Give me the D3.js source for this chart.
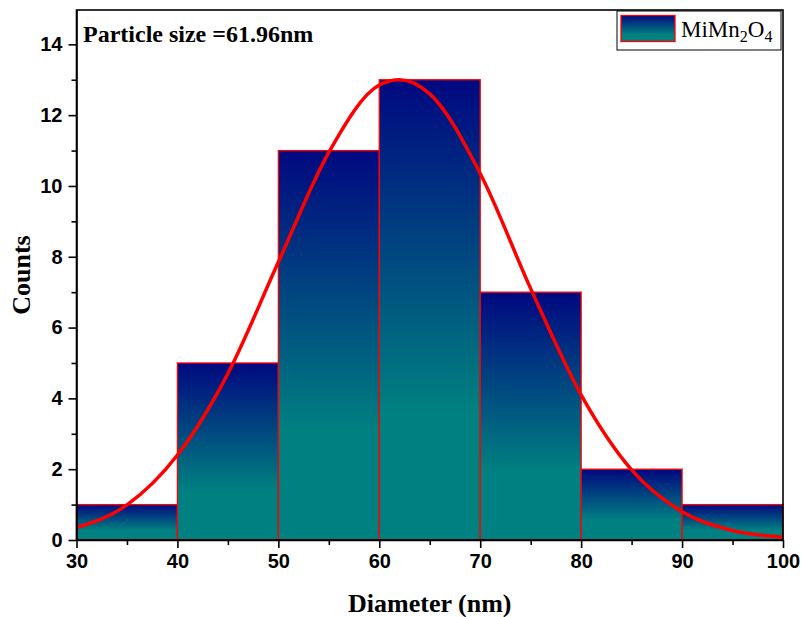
<!DOCTYPE html>
<html lang="en">
<head>
    <meta charset="UTF-8">
    <title>Particle size histogram</title>
    <script src="https://d3js.org/d3.v7.min.js"></script>
    <style>
        body {
            margin: 0;
            padding: 0;
            background: #fff;
        }

        .tick-label {
            font-family: "Liberation Sans", Arial, sans-serif;
            font-weight: bold;
            font-size: 20px;
            fill: #000;
        }

        .axis-title {
            font-family: "Liberation Serif", "Times New Roman", serif;
            font-weight: bold;
            font-size: 26px;
            fill: #000;
        }

        .bar {
            stroke: #ff0000;
            stroke-width: 1.3px;
        }

        .fit {
            fill: none;
            stroke: #ff0000;
            stroke-width: 3.5px;
        }
    </style>
</head>
<body>
<div id="chart"></div>
<script>

    // histogram bins (nm) and counts
    const binStarts = [30, 40, 50, 60, 70, 80, 90];
    const binWidth = 10;
    const counts = [1, 5, 11, 13, 7, 2, 1];

    // gaussian fit curve
    const fitX = [30, 35, 40, 45, 50, 55, 60, 62, 65, 70, 75, 80, 85, 90, 95, 100];
    const fitY = [0.35, 0.99, 2.4, 4.7, 7.85, 10.95, 12.85, 13.0, 12.6, 10.35, 7.1, 4.1, 1.98, 0.8, 0.27, 0.08];

    const xTicks = [30, 40, 50, 60, 70, 80, 90, 100];
    const yTicks = [0, 2, 4, 6, 8, 10, 12, 14];
    const seriesName = "MiMn2O4";
    const annotation = "Particle size =61.96nm";

    const W = 803, H = 617;
    const margin = {top: 10, right: 20, bottom: 77, left: 76.5};

    const svg = d3.select("#chart")
        .append("svg")
        .attr("width", W)
        .attr("height", H);

    // bar gradient: navy on top fading into teal
    const grad = svg.append("defs").append("linearGradient")
        .attr("id", "barGrad")
        .attr("x1", 0).attr("y1", 0)
        .attr("x2", 0).attr("y2", 1);
    grad.append("stop").attr("offset", 0).attr("stop-color", "#000880");
    grad.append("stop").attr("offset", 0.72).attr("stop-color", "#008080");
    grad.append("stop").attr("offset", 1).attr("stop-color", "#008080");

    const x = d3.scaleLinear()
        .domain([30, 100])
        .range([margin.left, W - margin.right]);

    const y = d3.scaleLinear()
        .domain([0, 14.97])
        .range([H - margin.bottom, margin.top]);

    const bars = binStarts.map((s, i) => ({x0: s, x1: s + binWidth, count: counts[i]}));

    // Bars
    svg.selectAll(".bar")
        .data(bars)
        .enter()
        .append("rect")
        .attr("class", "bar")
        .attr("x", d => x(d.x0))
        .attr("y", d => y(d.count))
        .attr("width", d => x(d.x1) - x(d.x0))
        .attr("height", d => y(0) - y(d.count))
        .attr("fill", "url(#barGrad)");

    // Fit curve
    const line = d3.line()
        .x(d => x(d[0]))
        .y(d => y(d[1]))
        .curve(d3.curveMonotoneX);

    svg.append("path")
        .attr("class", "fit")
        .attr("d", line(fitX.map((v, i) => [v, fitY[i]])));

    // Frame
    svg.append("rect")
        .attr("x", margin.left)
        .attr("y", margin.top)
        .attr("width", W - margin.right - margin.left)
        .attr("height", H - margin.bottom - margin.top)
        .attr("fill", "none")
        .attr("stroke", "#000")
        .attr("stroke-width", 1.6);

    // X axis
    const xAxis = svg.append("g")
        .attr("transform", `translate(0,${y(0)})`)
        .call(d3.axisBottom(x).tickValues(xTicks).tickSize(8).tickSizeOuter(0).tickPadding(6).tickFormat(d3.format("d")));
    xAxis.attr("font-size", null).attr("font-family", null);
    xAxis.select(".domain").attr("stroke-width", 1.6);
    xAxis.selectAll(".tick line").attr("stroke-width", 1.6);
    xAxis.selectAll(".tick text").attr("class", "tick-label");

    svg.append("g")
        .attr("transform", `translate(0,${y(0)})`)
        .call(d3.axisBottom(x).tickValues(xTicks.slice(0, -1).map(v => v + 5)).tickSize(5).tickFormat(""))
        .call(g => g.select(".domain").remove())
        .selectAll("line").attr("stroke-width", 1.6);

    // Y axis
    const yAxis = svg.append("g")
        .attr("transform", `translate(${x(30)},0)`)
        .call(d3.axisLeft(y).tickValues(yTicks).tickSize(8).tickSizeOuter(0).tickPadding(6));
    yAxis.attr("font-size", null).attr("font-family", null);
    yAxis.select(".domain").attr("stroke-width", 1.6);
    yAxis.selectAll(".tick line").attr("stroke-width", 1.6);
    yAxis.selectAll(".tick text").attr("class", "tick-label");

    svg.append("g")
        .attr("transform", `translate(${x(30)},0)`)
        .call(d3.axisLeft(y).tickValues(yTicks.slice(0, -1).map(v => v + 1)).tickSize(5).tickFormat(""))
        .call(g => g.select(".domain").remove())
        .selectAll("line").attr("stroke-width", 1.6);

    // Axis titles
    svg.append("text")
        .attr("class", "axis-title")
        .attr("text-anchor", "middle")
        .attr("x", (margin.left + W - margin.right) / 2)
        .attr("y", 612)
        .text("Diameter (nm)");

    svg.append("text")
        .attr("class", "axis-title")
        .attr("text-anchor", "middle")
        .attr("transform", `translate(30,${(margin.top + H - margin.bottom) / 2}) rotate(-90)`)
        .text("Counts");

    // Annotation
    svg.append("text")
        .attr("class", "axis-title")
        .style("font-size", "24px")
        .attr("x", 83)
        .attr("y", 42)
        .text(annotation);

    // Legend
    const legend = svg.append("g");
    legend.append("rect")
        .attr("x", 617).attr("y", 11)
        .attr("width", 164).attr("height", 39)
        .attr("fill", "#fff")
        .attr("stroke", "#000")
        .attr("stroke-width", 1);
    legend.append("rect")
        .attr("x", 621).attr("y", 15.5)
        .attr("width", 54).attr("height", 26)
        .attr("fill", "url(#barGrad)")
        .attr("stroke", "#ff0000")
        .attr("stroke-width", 1.3);
    const lt = legend.append("text")
        .attr("x", 681).attr("y", 37)
        .attr("font-family", "'Liberation Serif', 'Times New Roman', serif")
        .attr("font-size", "23px")
        .attr("fill", "#000");
    const parts = seriesName.match(/[A-Za-z]+|\d+/g);
    let shift = 0;
    parts.forEach(p => {
        if (/\d/.test(p)) {
            lt.append("tspan").attr("dy", 5 - shift).attr("font-size", "16px").text(p);
            shift = 5;
        } else {
            lt.append("tspan").attr("dy", -shift).text(p);
            shift = 0;
        }
    });

</script>
</body>
</html>
